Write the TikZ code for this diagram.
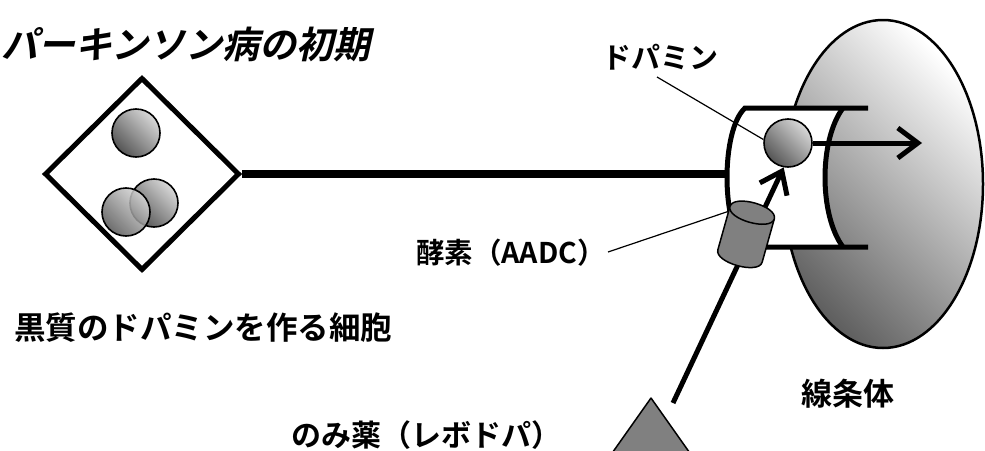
\documentclass[tikz,border=0pt]{standalone}
\usepackage{fontspec}
\newfontfamily\jp{Noto Sans CJK JP Bold}
\newfontfamily\jpslant{Noto Sans CJK JP Bold}[FakeSlant=0.22]
\usetikzlibrary{shapes.geometric,arrows.meta}

\definecolor{vesdark}{HTML}{555555}
\definecolor{veslight}{HTML}{D8D8D8}
\definecolor{strdark}{HTML}{606060}
\definecolor{strlight}{HTML}{FFFFFF}
\definecolor{pillgray}{HTML}{808080}

\begin{document}
\begin{tikzpicture}[x=1pt,y=-1pt,
  lbl/.style={inner sep=0pt, text=black},
  thickline/.style={line width=5pt},
  leader/.style={line width=1.2pt},
  % dark in the upper left, light in the lower right
  % (the y axis points down, which mirrors the shading angle)
  diagshade/.style 2 args={top color=#1, bottom color=#2, shading angle=135},
  vesicle/.style={circle, draw, line width=1.6pt, minimum size=48pt, inner sep=0pt,
    diagshade={vesdark}{veslight}},
  pushline/.style={line width=5pt, -{Straight Barb[length=20pt,width=30pt]}},
  pillshape/.style={fill=pillgray, draw=black, line width=1.5pt, line join=round}
]
\clip (0,0) rectangle (985,450);

% striatum
\shade[diagshade={strdark}{strlight}]
  (883,184) ellipse [x radius=100pt, y radius=164pt];
\draw[line width=2.5pt] (883,184) ellipse [x radius=100pt, y radius=164pt];

% nerve terminal
\fill[white] (745,108) .. controls (721,130) and (721,225) .. (745,247)
  -- (843,247) .. controls (819,215) and (819,140) .. (843,108) -- cycle;
\coordinate (termL) at (729,174);
\draw[thickline] (868,108) -- (745,108) .. controls (721,130) and (721,225) .. (745,247) -- (868,247);
\draw[thickline] (843,108) .. controls (819,140) and (819,215) .. (843,247);

% cell body and axon
\node[diamond, draw, fill=white, line width=5pt, minimum width=195pt, minimum height=193pt,
  inner sep=0pt] (soma) at (142,174) {};
\draw[line width=8pt] (soma.east) -- (termL);
\node[vesicle] (v1) at (136,133) {};
\node[vesicle] (v3) at (154,203) {};
\node[vesicle, fill opacity=0.85] (v2) at (126,212) {};

% dopamine in the terminal
\node[vesicle] (dopa) at (788,143) {};
\coordinate (pill) at (673,403);
\coordinate (release) at (922,143);
\draw[pushline] (pill) -- (dopa.-100);

% enzyme (AADC)
\begin{scope}[shift={(740,256)}, x={(0.963pt,-0.27pt)}, y={(0.27pt,0.963pt)}]
  \fill[pillgray] (-23,0) -- (-23,45) -- (23,45) -- (23,0)
    .. controls (23,-13.3) and (-23,-13.3) .. (-23,0) -- cycle;
  \draw[line width=1.5pt] (-23,45) -- (-23,0)
    .. controls (-23,-13.3) and (23,-13.3) .. (23,0) -- (23,45);
  \filldraw[fill=pillgray, line width=1.5pt] (-23,45)
    .. controls (-23,58.3) and (23,58.3) .. (23,45)
    .. controls (23,31.7) and (-23,31.7) .. (-23,45) -- cycle;
  \coordinate (enzyme) at (-23,40);
\end{scope}

\draw[pushline] (dopa.east) -- (release);

% oral drug
\draw[pillshape] (651,398) -- (716,490) -- (586,490) -- cycle;

% labels
\node[lbl, font=\jpslant\fontsize{37}{37}\selectfont, anchor=west] (title) at (1,44) {パーキンソン病の初期};
\node[lbl, font=\jp\fontsize{29}{29}\selectfont] (dopalbl) at (660,57) {ドパミン};
\node[lbl, font=\jp\fontsize{31.5}{31.5}\selectfont] (celllbl) at (203,328) {黒質のドパミンを作る細胞};
\node[lbl, font=\jp\fontsize{28.5}{28.5}\selectfont] (aadclbl) at (511,253) {酵素（AADC）};
\node[lbl, font=\jp\fontsize{31}{31}\selectfont] (strlbl) at (848,394) {線条体};
\node[lbl, font=\jp\fontsize{30}{30}\selectfont] (druglbl) at (426,435) {のみ薬（レボドパ）};

\coordinate (dopatail) at (657,77);
\coordinate (aadctail) at (608,252);
\draw[leader] (dopatail) -- (dopa.172);
\draw[leader] (aadctail) -- (enzyme);
\end{tikzpicture}
\end{document}
